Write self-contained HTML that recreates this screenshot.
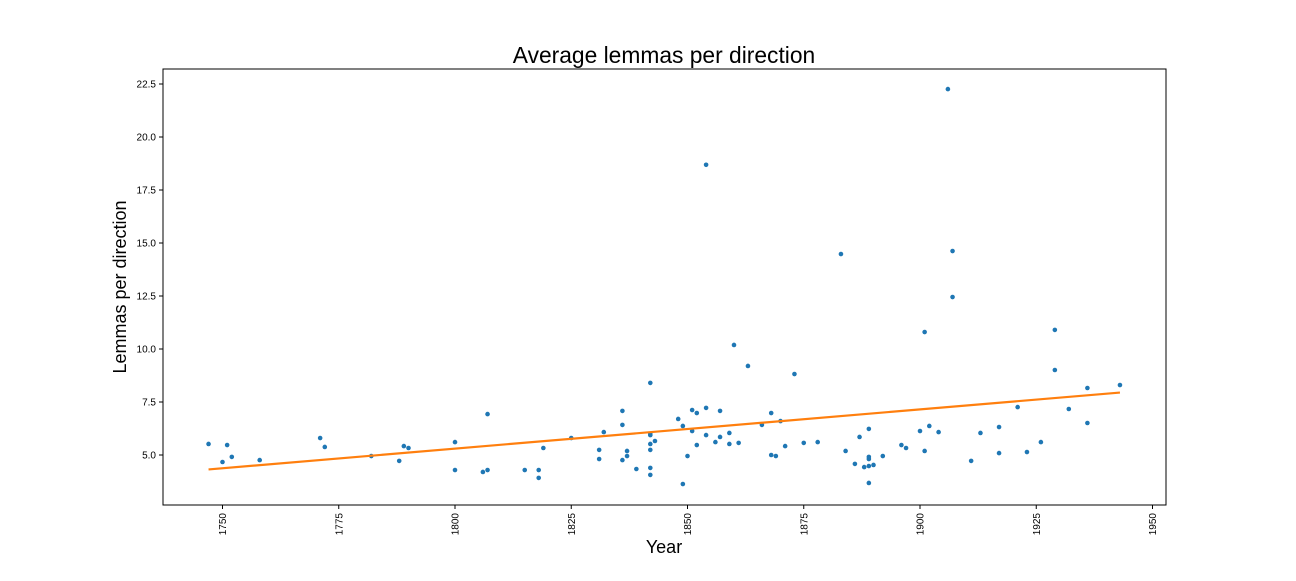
<!DOCTYPE html>
<html><head><meta charset="utf-8"><style>
body{margin:0;background:#fff;font-family:"Liberation Sans","DejaVu Sans",sans-serif}
</style></head><body>
<svg id="c" width="1296" height="576" xmlns="http://www.w3.org/2000/svg">
<rect width="1296" height="576" fill="#fff"/>
<text x="664" y="63" text-anchor="middle" font-size="22.8" fill="#000">Average lemmas per direction</text>
<text x="664" y="553" text-anchor="middle" font-size="18" fill="#000">Year</text>
<text transform="translate(126,287) rotate(-90)" text-anchor="middle" font-size="18" fill="#000">Lemmas per direction</text>
<g id="g"></g>
</svg>
<script>
const years=[1747,1750,1751,1752,1758,1771,1772,1782,1788,1789,1790,1800,1800,1806,1807,1807,1815,1818,1818,1819,1825,1831,1831,1832,1836,1836,1836,1837,1837,1839,1842,1842,1842,1842,1842,1842,1842,1843,1848,1849,1849,1850,1851,1851,1852,1852,1854,1854,1854,1856,1857,1857,1859,1859,1860,1861,1863,1866,1868,1868,1869,1870,1871,1873,1875,1878,1884,1883,1886,1887,1888,1889,1889,1889,1889,1889,1890,1892,1896,1897,1900,1901,1901,1902,1904,1906,1907,1907,1911,1913,1917,1917,1921,1923,1926,1929,1929,1932,1936,1936,1943];
const values=[5.52,4.67,5.47,4.91,4.76,5.80,5.38,4.95,4.72,5.42,5.33,5.61,4.29,4.20,4.29,6.93,4.29,4.29,3.92,5.33,5.80,5.24,4.81,6.08,7.08,6.42,4.76,5.19,4.95,4.34,8.40,5.99,5.94,5.52,5.24,4.39,4.06,5.66,6.70,6.37,3.63,4.95,7.12,6.13,6.98,5.47,7.22,5.94,18.69,5.61,7.08,5.85,6.04,5.52,10.19,5.57,9.20,6.42,6.98,5.00,4.95,6.60,5.42,8.82,5.57,5.61,5.19,14.48,4.58,5.85,4.43,6.23,4.91,4.81,4.48,3.68,4.53,4.95,5.47,5.33,6.13,10.80,5.19,6.37,6.08,22.26,14.62,12.45,4.72,6.04,6.32,5.09,7.26,5.14,5.61,10.90,9.01,7.17,8.16,6.51,8.30];
const xTicks=[1750,1775,1800,1825,1850,1875,1900,1925,1950];
const yTicks=[5.0,7.5,10.0,12.5,15.0,17.5,20.0,22.5];
const L=163,R=1166,T=69,B=505;
const X=v=>222.5+(v-1750)*4.65;
const Y=v=>455-(v-5)*21.2;
const g=document.getElementById('g');
const NS='http://www.w3.org/2000/svg';
function mk(t,a){const e=document.createElementNS(NS,t);for(const k in a)e.setAttribute(k,a[k]);g.appendChild(e);return e;}
let fr=mk('rect',{x:L,y:T,width:R-L,height:B-T,fill:'none',stroke:'#000','stroke-width':1});


xTicks.forEach(t=>{const x=X(t);
 let l=mk('line',{x1:x,x2:x,y1:B,y2:B+4,stroke:'#000'});
 
 
 let s=mk('text',{transform:`translate(${x+3.5},${B+8}) rotate(-90)`,'text-anchor':'end','font-size':10});
 s.textContent=t;
 
 
});
yTicks.forEach(t=>{const y=Y(t);
 let l=mk('line',{x1:L-4,x2:L,y1:y,y2:y,stroke:'#000'});
 
 
 let s=mk('text',{x:L-7,y:y+3.5,'text-anchor':'end','font-size':10});
 s.textContent=t.toFixed(1);
 
 
});
years.forEach((yr,i)=>{
 let c=mk('circle',{cx:X(yr),cy:Y(values[i]),r:2.3,fill:'#1f77b4'});
 
 
});
const n=years.length,mx=years.reduce((a,b)=>a+b)/n,my=values.reduce((a,b)=>a+b)/n;
let sxy=0,sxx=0;years.forEach((x,i)=>{sxy+=(x-mx)*(values[i]-my);sxx+=(x-mx)*(x-mx);});
const sl=sxy/sxx,ic=my-sl*mx;
const x0=Math.min(...years),x1=Math.max(...years);
let fl=mk('line',{x1:X(x0),y1:Y(ic+sl*x0),x2:X(x1),y2:Y(ic+sl*x1),stroke:'#ff7f0e','stroke-width':2.2});


</script>
</body></html>
